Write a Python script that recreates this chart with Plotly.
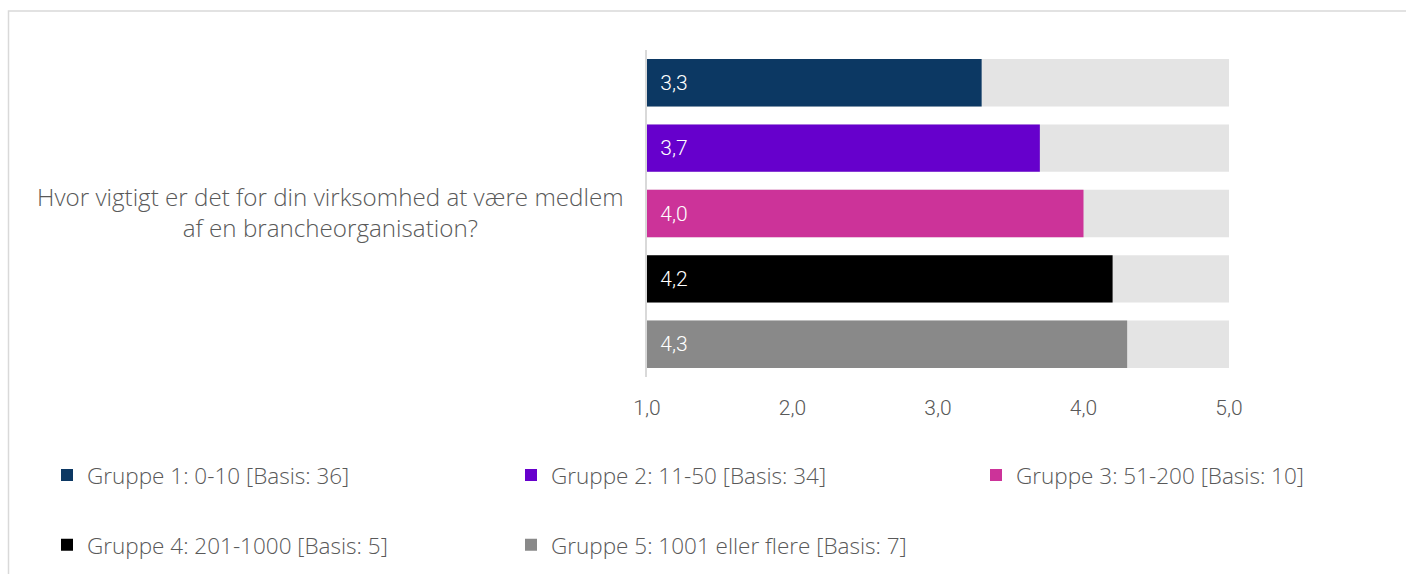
import plotly.graph_objects as go

# Survey result: mean importance score (scale 1-5) per company-size group
question = "Hvor vigtigt er det for din virksomhed at være medlem<br>af en brancheorganisation?"
groups = [
    "Gruppe 1: 0-10 [Basis: 36]",
    "Gruppe 2: 11-50 [Basis: 34]",
    "Gruppe 3: 51-200 [Basis: 10]",
    "Gruppe 4: 201-1000 [Basis: 5]",
    "Gruppe 5: 1001 eller flere [Basis: 7]",
]
scores = [3.3, 3.7, 4.0, 4.2, 4.3]
colors = ["#0c3863", "#6600cc", "#cc3399", "#000000", "#898989"]
scale_min, scale_max = 1.0, 5.0
tick_values = [1.0, 2.0, 3.0, 4.0, 5.0]

W, H = 1406, 574
M_L, M_R, M_T, M_B = 647, 177, 50, 196.5
plot_w = W - M_L - M_R
plot_h = H - M_T - M_B

label_font = "Roboto, Lato, sans-serif"
text_font = "Open Sans, Lato, sans-serif"
grey_text = "#595959"

def px_to_paper_x(px):
    return (px - M_L) / plot_w

def px_to_paper_y(py):
    return (H - M_B - py) / plot_h

# legend slots: (left px, row centre px)
legend_slots = [(47, 476), (511, 476), (976, 476), (47, 546), (511, 546)]
legend_ids = ["legend", "legend2", "legend3", "legend4", "legend5"]

fig = go.Figure()

# Full-scale backdrop bars (1 to 5)
fig.add_trace(go.Bar(
    y=list(range(len(scores))),
    x=[scale_max - scale_min] * len(scores),
    base=scale_min,
    orientation="h",
    marker=dict(color="#e4e4e4", line=dict(width=0)),
    showlegend=False,
    hoverinfo="skip",
))

# One bar per group, starting at the bottom of the scale
for i, (name, val, col) in enumerate(zip(groups, scores, colors)):
    fig.add_trace(go.Bar(
        y=[i],
        x=[val - scale_min],
        base=scale_min,
        orientation="h",
        name=name,
        customdata=[val],
        texttemplate="\u00a0\u00a0%{customdata:.1f}",
        textposition="inside",
        insidetextanchor="start",
        textfont=dict(color="white", size=21, family=label_font, weight=300),
        marker=dict(color=col, line=dict(width=0)),
        legend=legend_ids[i],
        hovertemplate=name + ": %{customdata:.1f}<extra></extra>",
    ))

legend_layout = {}
for lid, (lx, ly) in zip(legend_ids, legend_slots):
    legend_layout[lid] = dict(
        orientation="h",
        x=px_to_paper_x(lx), xanchor="left",
        y=px_to_paper_y(ly), yanchor="middle",
        font=dict(family=text_font, size=22.5, color=grey_text, weight=300),
        bgcolor="rgba(0,0,0,0)",
    )

fig.update_layout(
    width=W, height=H,
    margin=dict(l=M_L, r=M_R, t=M_T, b=M_B, pad=0, autoexpand=False),
    paper_bgcolor="white",
    plot_bgcolor="white",
    barmode="overlay",
    bargap=0.275,
    separators=",.",
    font=dict(family=text_font, color=grey_text, size=21),
    xaxis=dict(
        range=[scale_min, scale_max],
        tickvals=tick_values,
        tickformat=".1f",
        showgrid=False,
        zeroline=False,
        showline=False,
        ticks="outside",
        ticklen=12,
        tickcolor="rgba(0,0,0,0)",
        tickfont=dict(family=label_font, size=21, color=grey_text, weight=300),
    ),
    yaxis=dict(
        range=[len(scores) - 0.5, -0.5],
        showticklabels=False,
        showgrid=False,
        zeroline=False,
        showline=True,
        linecolor="#d9d9d9",
        linewidth=1.5,
        ticks="",
    ),
    annotations=[dict(
        text=question,
        xref="paper", yref="y",
        x=px_to_paper_x(330), y=1.97,
        xanchor="center", yanchor="middle",
        align="center",
        showarrow=False,
        font=dict(family=text_font, size=24.2, color=grey_text, weight=300),
    )],
    shapes=[dict(
        type="rect",
        xref="paper", yref="paper",
        x0=px_to_paper_x(8.5), x1=px_to_paper_x(1430),
        y0=px_to_paper_y(620), y1=px_to_paper_y(11),
        line=dict(color="#d9d9d9", width=1.5),
        fillcolor="rgba(0,0,0,0)",
        layer="below",
    )],
    **legend_layout,
)

fig.write_html("out.html")
